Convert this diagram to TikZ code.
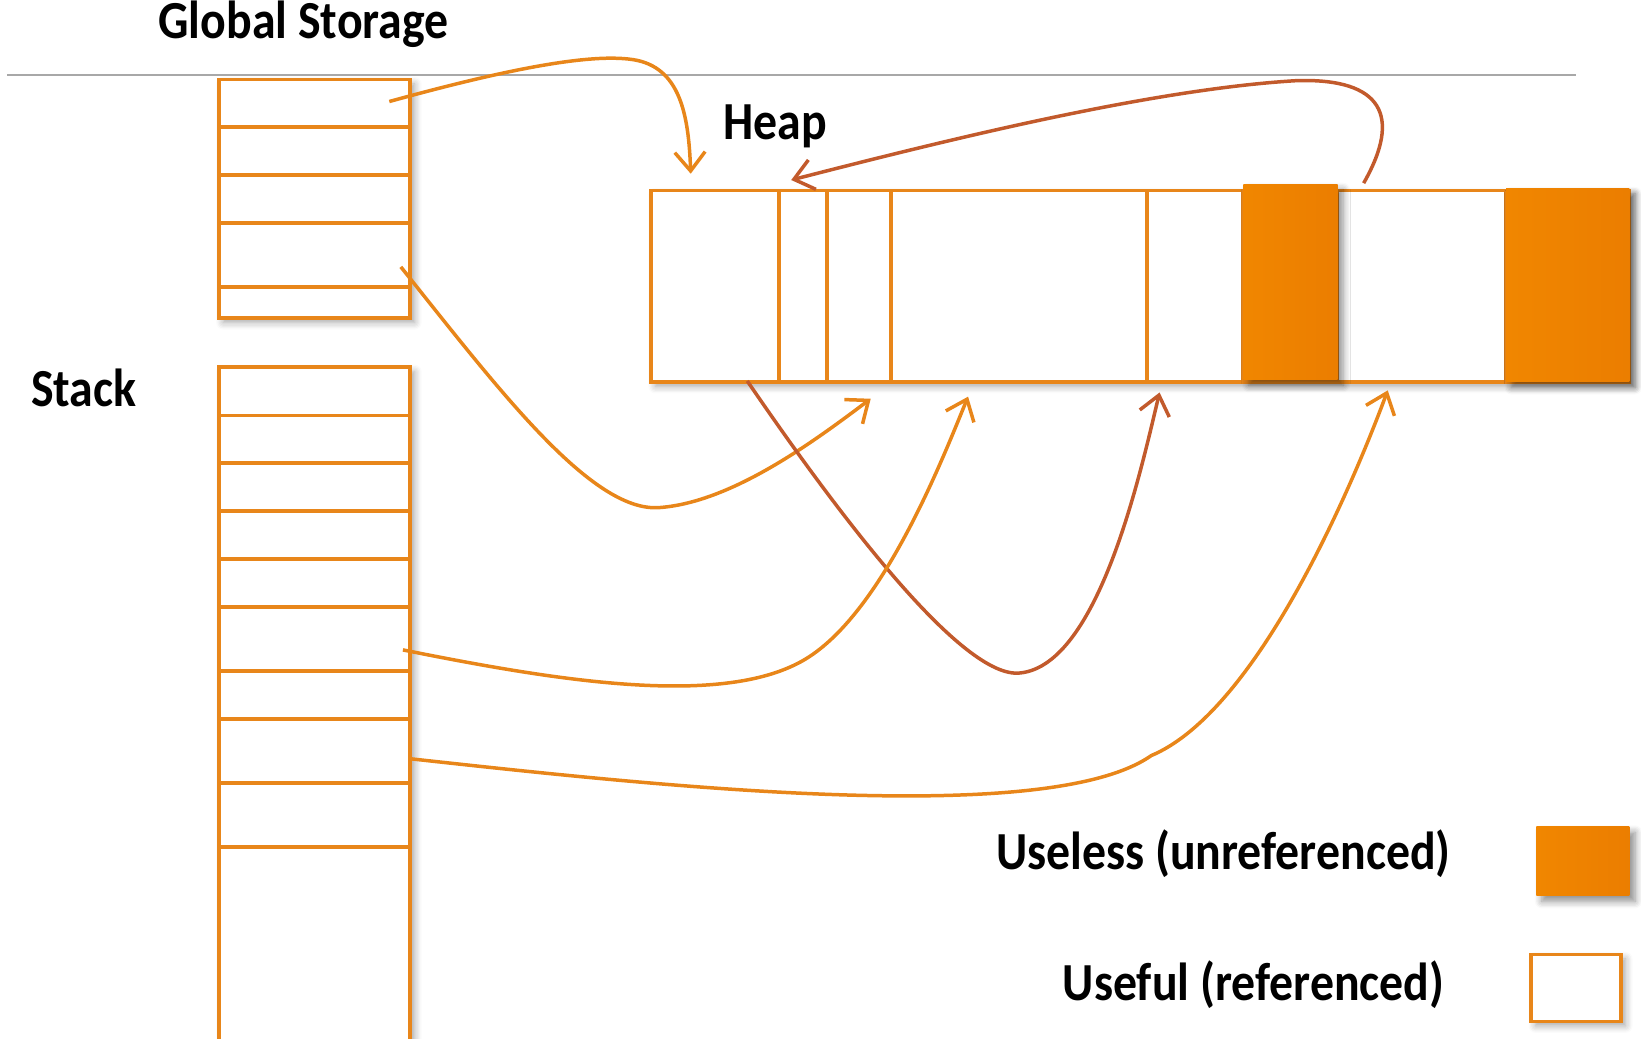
\documentclass[tikz,border=0pt]{standalone}
\usepackage{fontspec}
\setmainfont{Carlito}
\usetikzlibrary{arrows.meta,shadows.blur}
\definecolor{frameorange}{HTML}{E8861A}
\definecolor{blockorange}{HTML}{F08000}
\definecolor{linkorange}{HTML}{E8861A}
\definecolor{linkbrown}{HTML}{C25A2C}
\definecolor{rulegray}{HTML}{A8A8A8}

\tikzset{
  cell/.style={draw=frameorange, line width=1.05pt, inner sep=0pt, outer sep=0pt},
  frame/.style={cell, fill=white, blur shadow={shadow xshift=1.2pt, shadow yshift=-1.2pt, shadow blur steps=6, shadow opacity=35}},
  block/.style={inner sep=0pt, outer sep=0pt, left color=blockorange!95!yellow, right color=blockorange!98!black,
    blur shadow={shadow xshift=1.5pt, shadow yshift=-1.5pt, shadow blur steps=6, shadow opacity=45}},
  label/.style={font=\fontsize{13}{16}\selectfont\bfseries, inner sep=0pt},
  link/.style={draw=linkorange, line width=0.95pt, -{Straight Barb[length=1.8mm, width=2.9mm, line width=0.95pt]}},
  backlink/.style={link, draw=linkbrown},
}

% a rectangle node spanning (x1,y1)--(x2,y2) in picture units
\newcommand\memcell[6]{%
  \node[#6, minimum width={(#4-#2)*0.1mm}, minimum height={(#5-#3)*0.1mm}]
    (#1) at ({(#2+#4)/2},{(#3+#5)/2}) {};}
% label text, slightly taller than the plain face
\newcommand\tall[1]{\scalebox{1}[1.12]{#1}}

\begin{document}
\begin{tikzpicture}[x=0.1mm, y=-0.1mm]
\useasboundingbox (0,0) rectangle (1568,992);
\clip (0,0) rectangle (1568,992);

% section rule between global storage and the rest
\coordinate (ruleL) at (7,72);
\coordinate (ruleR) at (1506,72);
\draw[rulegray, line width=0.6pt] (ruleL) -- (ruleR);

% titles
\node[label, anchor=base] (tglobal) at (290,37) {\tall{Global Storage}};
\node[label, anchor=base] (theap) at (741,133) {\tall{Heap}};
\node[label, anchor=base] (tstack) at (80,388) {\tall{Stack}};

% global storage
\memcell{gsframe}{209}{76}{392}{304}{frame}
\memcell{gs1}{209}{76}{392}{121}{cell}
\memcell{gs2}{209}{121}{392}{167}{cell}
\memcell{gs3}{209}{167}{392}{213}{cell}
\memcell{gs4}{209}{213}{392}{274}{cell}
\memcell{gs5}{209}{274}{392}{304}{cell}

% stack
\memcell{stframe}{209}{351}{392}{1010}{frame}
\memcell{st1}{209}{351}{392}{397}{cell}
\memcell{st2}{209}{397}{392}{442}{cell}
\memcell{st3}{209}{442}{392}{488}{cell}
\memcell{st4}{209}{488}{392}{534}{cell}
\memcell{st5}{209}{534}{392}{580}{cell}
\memcell{st6}{209}{580}{392}{641}{cell}
\memcell{st7}{209}{641}{392}{687}{cell}
\memcell{st8}{209}{687}{392}{748}{cell}
\memcell{st9}{209}{748}{392}{809}{cell}
\memcell{st10}{209}{809}{392}{1010}{cell}

% heap
\memcell{hpframe}{622}{182}{1557}{365}{frame}
\memcell{h1}{622}{182}{744}{365}{cell}
\memcell{h2}{744}{182}{790}{365}{cell}
\memcell{h3}{790}{182}{851}{365}{cell}
\memcell{h4}{851}{182}{1096}{365}{cell}
\memcell{h5}{1096}{182}{1188}{365}{cell}
\memcell{h7}{1278}{182}{1439}{365}{cell}
\memcell{h6}{1188}{176}{1278}{363}{block}
\memcell{h8}{1439}{180}{1557}{365}{block}

% legend
\node[label, anchor=base east] (tuseless) at (1387,831) {\tall{Useless (unreferenced)}};
\node[label, anchor=base east] (tuseful) at (1381,956) {\tall{Useful (referenced)}};
\memcell{kuseless}{1468}{790}{1557}{856}{block}
\memcell{kuseful}{1463}{912}{1549}{976}{frame}

% reference end points
\coordinate (a1s) at (372,97);
\coordinate (a1e) at (660,166);
\coordinate (a2s) at (383,255);
\coordinate (a2e) at (832,381);
\coordinate (a3s) at (714,364);
\coordinate (a3e) at (1108,375);
\coordinate (a4s) at (1303,175);
\coordinate (a4e) at (756,172);
\coordinate (a5s) at (385,621);
\coordinate (a5e) at (925,379);
\coordinate (a6s) at (gs4.east |- 0,725);
\coordinate (a6e) at (1326,373);

% references
\draw[link] (a1s) .. controls (470,70) and (560,50) .. (605,57)
  .. controls (650,64) and (658,110) .. (a1e);
\draw[link] (a2s) .. controls (475,370) and (565,490) .. (630,485)
  .. controls (700,480) and (780,420) .. (a2e);
\draw[backlink] (a3s) .. controls (800,490) and (920,650) .. (975,643)
  .. controls (1050,635) and (1090,450) .. (a3e);
\draw[backlink] (a4s) .. controls (1340,110) and (1320,75) .. (1240,77)
  .. controls (1100,85) and (900,135) .. (a4e);
\draw[link] (a5s) .. controls (520,648) and (680,676) .. (762,634)
  .. controls (840,595) and (900,440) .. (a5e);
\draw[link] (a6s) .. controls (620,750) and (1000,792) .. (1100,722)
  .. controls (1200,680) and (1290,470) .. (a6e);
\end{tikzpicture}
\end{document}
